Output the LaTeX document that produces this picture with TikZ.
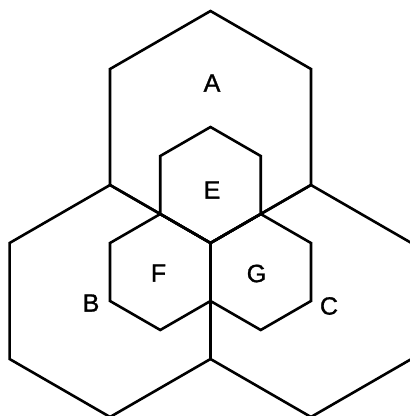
\documentclass[tikz,border=0pt]{standalone}
\usepackage{fontspec}
\setmainfont{Liberation Sans}
\newfontfamily\lblfont[FakeBold=1.2]{Liberation Sans}
\usetikzlibrary{calc}
\begin{document}
\begin{tikzpicture}[x=1pt,y=1pt,
  hexline/.style={line width=2.6pt, line join=miter, draw=black},
  lbl/.style={inner sep=0pt, font=\lblfont\fontsize{25}{25}\selectfont}]
\fill[white] (0,0) rectangle (410,-416);
\useasboundingbox (0,0) rectangle (410,-416);
\coordinate (O) at (210.5,-243);
% big hexagons
\foreach \nm/\ang in {cA/90, cB/210, cC/330}{
  \coordinate (\nm) at ($(O)+(\ang:116)$);
}
% small hexagons
\foreach \nm/\ang in {cE/90, cF/210, cG/330}{
  \coordinate (\nm) at ($(O)+(\ang:58)$);
}
\begin{scope}
\clip (0,0) rectangle (410,-416);
\foreach \c in {cA,cB,cC}{
  \draw[hexline] ($(\c)+(90:116)$) -- ($(\c)+(150:116)$) -- ($(\c)+(210:116)$)
    -- ($(\c)+(270:116)$) -- ($(\c)+(330:116)$) -- ($(\c)+(30:116)$) -- cycle;
}
\foreach \c in {cE,cF,cG}{
  \draw[hexline] ($(\c)+(90:58)$) -- ($(\c)+(150:58)$) -- ($(\c)+(210:58)$)
    -- ($(\c)+(270:58)$) -- ($(\c)+(330:58)$) -- ($(\c)+(30:58)$) -- cycle;
}
\end{scope}
\node[lbl] (A) at (212,-83) {A};
\node[lbl] (E) at (212,-190) {E};
\node[lbl] (F) at (158.5,-273) {F};
\node[lbl] (G) at (256.5,-273.5) {G};
\node[lbl] (B) at (91,-303) {B};
\node[lbl] (C) at (329,-306) {C};
\end{tikzpicture}
\end{document}
